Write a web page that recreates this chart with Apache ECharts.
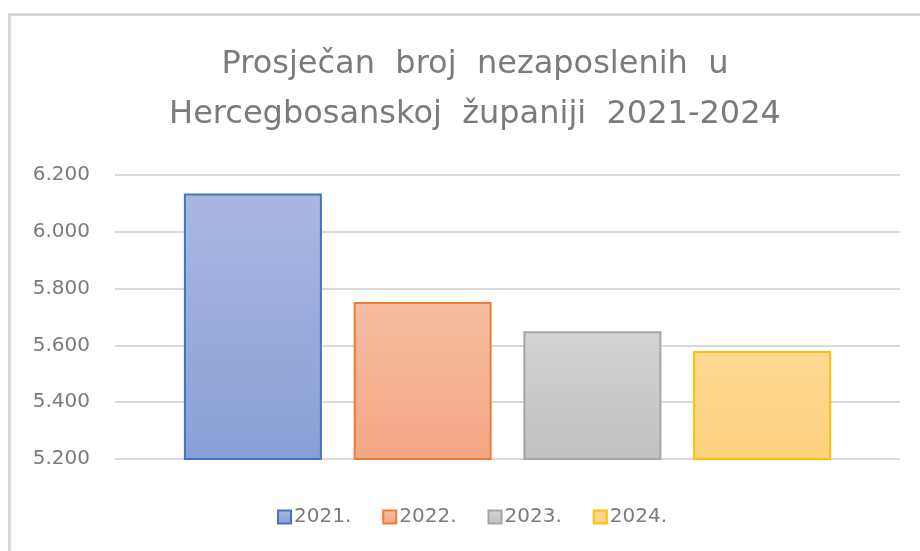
<!DOCTYPE html>
<html>
<head>
<meta charset="utf-8">
<script src="https://cdn.jsdelivr.net/npm/echarts@6/dist/echarts.min.js"></script>
<style>
    html, body { margin: 0; padding: 0; background: #fff; }
    #main { width: 920px; height: 551px; }
</style>
</head>
<body>
<div id="main"></div>
<script>
var titleText = 'Prosječan  broj  nezaposlenih  u\nHercegbosanskoj  županiji  2021-2024';
var years = ['2021.', '2022.', '2023.', '2024.'];
var values = [6135, 5753, 5650, 5580];
var yTicks = [5200, 6200, 200];

// border, top colour, bottom colour for each year
var colors = [
    ['#4472C4', '#AAB8E0', '#889FD7'],
    ['#ED7D31', '#F6BEA3', '#F4A683'],
    ['#A5A5A5', '#D3D3D3', '#C1C1C1'],
    ['#FFC000', '#FED995', '#FED37D']
];

var font = '"DejaVu Sans", sans-serif';

function buildSeries() {
    return years.map(function (y, i) {
        return {
            name: y,
            type: 'bar',
            data: [values[i]],
            barWidth: 138,
            barGap: '23%',
            itemStyle: {
                borderColor: colors[i][0],
                borderWidth: 2,
                color: new echarts.graphic.LinearGradient(0, 0, 0, 1, [
                    { offset: 0, color: colors[i][1] },
                    { offset: 1, color: colors[i][2] }
                ])
            }
        };
    });
}

var myChart = echarts.init(document.getElementById('main'));
var option = {
    animation: false,
    title: {
        text: titleText,
        left: 470,
        top: 35,
        textAlign: 'center',
        textStyle: {
            fontFamily: font,
            fontSize: 32,
            fontWeight: 'normal',
            color: '#7B7B7B',
            lineHeight: 50
        }
    },
    graphic: [{
        type: 'rect',
        shape: { x: 9.5, y: 14.5, width: 1000, height: 1000 },
        style: { fill: 'none', stroke: '#D9D9D9', lineWidth: 3 },
        silent: true
    }],
    legend: {
        data: years,
        left: 272,
        top: 502,
        itemWidth: 13,
        itemHeight: 13,
        itemGap: 31,
        icon: 'rect',
        textStyle: {
            fontFamily: font,
            fontSize: 20,
            color: '#7B7B7B',
            padding: [0, 0, 0, -2]
        }
    },
    grid: {
        left: 115,
        right: 20,
        top: 175,
        bottom: 92
    },
    xAxis: {
        type: 'category',
        data: [''],
        axisLine: { show: false },
        axisTick: { show: false },
        axisLabel: { show: false }
    },
    yAxis: {
        type: 'value',
        min: yTicks[0],
        max: yTicks[1],
        interval: yTicks[2],
        axisLine: { show: false },
        axisTick: { show: false },
        axisLabel: {
            margin: 25,
            fontFamily: font,
            fontSize: 20,
            color: '#7B7B7B',
            formatter: function (v) {
                return String(v).replace(/\B(?=(\d{3})+(?!\d))/g, '.');
            }
        },
        splitLine: {
            lineStyle: { color: '#D9D9D9', width: 2 }
        }
    },
    series: buildSeries()
};
myChart.setOption(option);
</script>
</body>
</html>
